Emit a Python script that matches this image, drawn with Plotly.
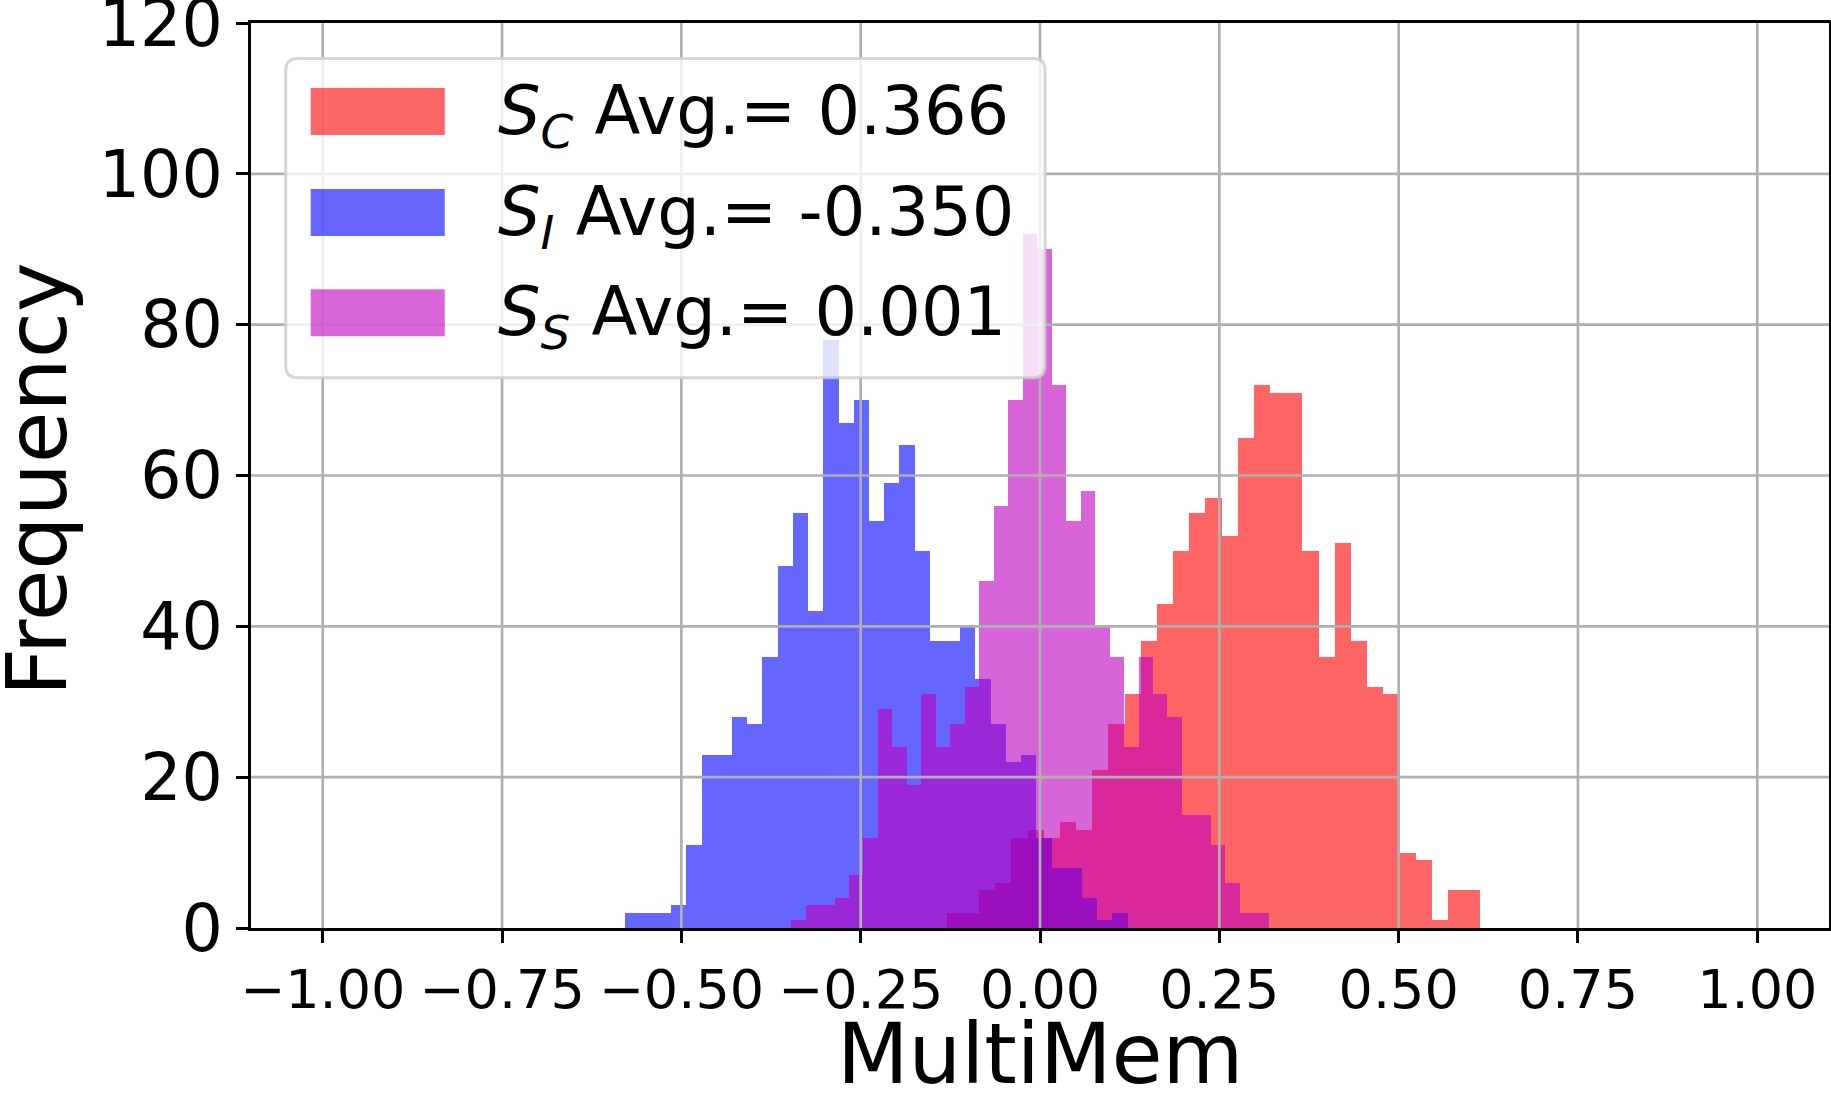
import plotly.graph_objects as go

# ---------------- data ----------------
series_names = ["S_C", "S_I", "S_S"]
series_avgs = ["0.366", "-0.350", "0.001"]

# S_C (red): 33 bins
sc_bin_start = -0.1300
sc_bin_width = 0.022536
sc_counts = [2, 2, 5, 6, 12, 13, 12, 14, 13, 21, 27, 31, 38, 43, 50, 55, 57, 52,
             65, 72, 71, 71, 50, 36, 51, 38, 32, 31, 10, 9, 1, 5, 5]

# S_I (blue): 33 bins
si_bin_start = -0.5779
si_bin_width = 0.021213
si_counts = [2, 2, 2, 3, 11, 23, 23, 28, 27, 36, 48, 55, 42, 78, 67, 70, 54, 59,
             64, 50, 38, 38, 40, 33, 27, 22, 23, 12, 8, 8, 4, 1, 2]

# S_S (magenta): 33 bins
ss_bin_start = -0.3470
ss_bin_width = 0.020182
ss_counts = [1, 3, 3, 4, 7, 12, 29, 24, 19, 31, 24, 27, 32, 46, 56, 70, 92, 90,
             72, 54, 58, 40, 36, 24, 36, 31, 28, 15, 15, 11, 6, 2, 2]

x_tick_values = [-1.0, -0.75, -0.5, -0.25, 0.0, 0.25, 0.5, 0.75, 1.0]
x_tick_labels = ["\u22121.00", "\u22120.75", "\u22120.50", "\u22120.25", "0.00",
                 "0.25", "0.50", "0.75", "1.00"]
y_tick_values = [0, 20, 40, 60, 80, 100, 120]
x_title = "MultiMem"
y_title = "Frequency"

# ---------------- styling ----------------
colors = ["rgb(255,0,0)", "rgb(0,0,255)", "rgb(191,0,191)"]
subs = ["C", "I", "S"]
FONT = "DejaVu Sans"

W, H = 1831, 1097
PX0, PX1 = 251.3, 1828.7   # plot area in pixels
PY0, PY1 = 23.4, 928.3


def px(xp):
    return (xp - PX0) / (PX1 - PX0)


def py(yp):
    return (PY1 - yp) / (PY1 - PY0)


def centers(start, width, counts):
    return [start + width * (i + 0.5) for i in range(len(counts))]


fig = go.Figure()
for name, start, width, counts, col in [
    (series_names[0], sc_bin_start, sc_bin_width, sc_counts, colors[0]),
    (series_names[1], si_bin_start, si_bin_width, si_counts, colors[1]),
    (series_names[2], ss_bin_start, ss_bin_width, ss_counts, colors[2]),
]:
    fig.add_trace(go.Bar(
        x=centers(start, width, counts), y=counts, width=[width] * len(counts),
        name=name, marker=dict(color=col, line=dict(width=0)), opacity=0.6,
        showlegend=False,
    ))

shapes = []
# grid lines drawn above bars (as in the reference)
for tv in x_tick_values:
    shapes.append(dict(type="line", xref="x", yref="paper", x0=tv, x1=tv, y0=0, y1=1,
                       line=dict(color="#b0b0b0", width=2.7), layer="above"))
for tv in y_tick_values[1:-1]:
    shapes.append(dict(type="line", xref="paper", yref="y", x0=0, x1=1, y0=tv, y1=tv,
                       line=dict(color="#b0b0b0", width=2.7), layer="above"))

# legend frame (rounded)
lx0, lx1, ly0, ly1, r = 286, 1045, 59, 378, 12
path = (f"M {px(lx0 + r)} {py(ly0)} L {px(lx1 - r)} {py(ly0)} "
        f"Q {px(lx1)} {py(ly0)} {px(lx1)} {py(ly0 + r)} "
        f"L {px(lx1)} {py(ly1 - r)} Q {px(lx1)} {py(ly1)} {px(lx1 - r)} {py(ly1)} "
        f"L {px(lx0 + r)} {py(ly1)} Q {px(lx0)} {py(ly1)} {px(lx0)} {py(ly1 - r)} "
        f"L {px(lx0)} {py(ly0 + r)} Q {px(lx0)} {py(ly0)} {px(lx0 + r)} {py(ly0)} Z")
shapes.append(dict(type="path", xref="paper", yref="paper", path=path,
                   fillcolor="rgba(255,255,255,0.8)",
                   line=dict(color="rgba(204,204,204,0.8)", width=3), layer="above"))

annotations = []
row_centers = [112, 213, 313]
for i in range(3):
    yc = row_centers[i]
    shapes.append(dict(type="rect", xref="paper", yref="paper",
                       x0=px(311), x1=px(445), y0=py(yc - 23.5), y1=py(yc + 23.5),
                       fillcolor=colors[i], opacity=0.6, line=dict(width=0),
                       layer="above"))
    annotations.append(dict(
        xref="paper", yref="paper", x=px(496), y=py(yc + 4), xanchor="left",
        yanchor="middle", showarrow=False,
        text=f"<i>S</i><sub><i>{subs[i]}</i></sub> Avg.= {series_avgs[i]}",
        font=dict(family=FONT, size=67, color="black"),
    ))

# axis titles
annotations.append(dict(xref="paper", yref="paper", x=0.5, y=py(1055),
                        xanchor="center", yanchor="middle", showarrow=False,
                        text=x_title, font=dict(family=FONT, size=83, color="black")))
annotations.append(dict(xref="paper", yref="paper", x=px(37), y=py(480),
                        xanchor="center", yanchor="middle", showarrow=False,
                        textangle=-90,
                        text=y_title, font=dict(family=FONT, size=84, color="black")))

fig.update_layout(
    width=W, height=H,
    margin=dict(l=PX0, r=W - PX1, t=PY0, b=H - PY1, pad=0, autoexpand=False),
    paper_bgcolor="white", plot_bgcolor="white",
    barmode="overlay", bargap=0,
    shapes=shapes, annotations=annotations,
    font=dict(family=FONT, color="black"),
)
fig.update_xaxes(
    range=[-1.1, 1.1], tickmode="array", tickvals=x_tick_values, ticktext=x_tick_labels,
    showgrid=False, zeroline=False, showline=True, linecolor="black", linewidth=3.3,
    mirror=True, ticks="outside", ticklen=12, tickwidth=3, tickcolor="black",
    tickfont=dict(family=FONT, size=54, color="black"), ticklabeloverflow="allow",
    automargin=False,
)
fig.update_yaxes(
    range=[0, 120], tickmode="array", tickvals=y_tick_values,
    showgrid=False, zeroline=False, showline=True, linecolor="black", linewidth=3.3,
    mirror=True, ticks="outside", ticklen=12, tickwidth=3, tickcolor="black",
    tickfont=dict(family=FONT, size=65, color="black"), ticklabeloverflow="allow",
    automargin=False,
)

fig.write_html("out.html")
